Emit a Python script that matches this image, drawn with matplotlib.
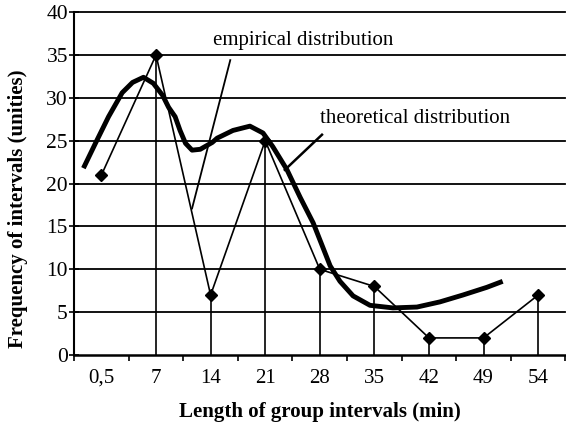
import matplotlib
matplotlib.use("Agg")
import matplotlib.pyplot as plt

# categories along the x axis
intervals = ["0,5", "7", "14", "21", "28", "35", "42", "49", "54"]
empirical = [21, 35, 7, 25, 10, 8, 2, 2, 7]

# theoretical curve (x in category units)
theo_x = [-0.33, -0.11, 0.13, 0.38, 0.57, 0.77, 0.95, 1.12, 1.23, 1.35,
          1.44, 1.54, 1.66, 1.81, 2.03, 2.12, 2.41, 2.72, 2.96, 3.14, 3.40,
          3.64, 3.88, 4.06, 4.19, 4.37, 4.61, 4.92, 5.34, 5.78, 6.20, 6.62,
          7.06, 7.35]
theo_y = [21.8, 24.7, 27.8, 30.6, 31.8, 32.4, 31.7, 30.3, 28.9, 27.8,
          26.2, 24.7, 23.9, 24.0, 24.8, 25.3, 26.2, 26.7, 25.9, 24.3, 21.6,
          18.4, 15.4, 12.5, 10.4, 8.6, 6.9, 5.8, 5.5, 5.6, 6.2, 7.0,
          7.9, 8.6]

plt.rcParams["font.family"] = ["Liberation Serif", "DejaVu Serif"]

fig = plt.figure(figsize=(5.66, 4.33), dpi=100)
ax = fig.add_axes([0.131, 0.180, 0.868, 0.792])

x = list(range(len(intervals)))
ax.set_xlim(-0.5, len(intervals) - 0.5)
ax.set_ylim(0, 40)

for v in range(5, 45, 5):
    ax.axhline(v, color="black", lw=1.3, zorder=1, clip_on=False)

# drop lines from the markers
ax.vlines(x[1:], 0, empirical[1:], color="black", lw=1.2, zorder=2)

ax.plot(x, empirical, color="black", lw=1.2, marker="D", markersize=6,
        zorder=3)
ax.plot(theo_x, theo_y, color="black", lw=3.5, solid_capstyle="butt",
        solid_joinstyle="round", zorder=4)

# labels with pointers
ax.text(2.05, 36.7, "empirical distribution", fontsize=15, ha="left",
        va="center")
ax.plot([2.36, 1.66], [34.4, 17.1], color="black", lw=1.3, zorder=5)
ax.text(4.0, 27.6, "theoretical distribution", fontsize=15, ha="left",
        va="center")
ax.plot([4.04, 3.36], [25.7, 21.6], color="black", lw=1.8, zorder=5)

ax.set_xticks(x)
ax.set_xticklabels(intervals, fontsize=15)
ax.set_xticks([i - 0.5 for i in range(len(intervals) + 1)], minor=True)
ax.tick_params(axis="x", which="major", length=0, pad=10)
ax.tick_params(axis="x", which="minor", length=4, width=1.2, direction="out")
ax.set_yticks(range(0, 45, 5))
ax.tick_params(axis="y", labelsize=15.5, length=7, width=1.2,
               direction="inout", pad=1)

for s in ["top", "right"]:
    ax.spines[s].set_visible(False)
ax.spines["left"].set_linewidth(1.5)
ax.spines["bottom"].set_linewidth(1.8)

ax.set_xlabel("Length of group intervals (min)", fontsize=15,
              fontweight="bold", labelpad=10)
ax.set_ylabel("Frequency of intervals (unities)", fontsize=15,
              fontweight="bold")
ax.yaxis.set_label_coords(-0.094, 0.426)

fig.savefig("out.png", dpi=100)
